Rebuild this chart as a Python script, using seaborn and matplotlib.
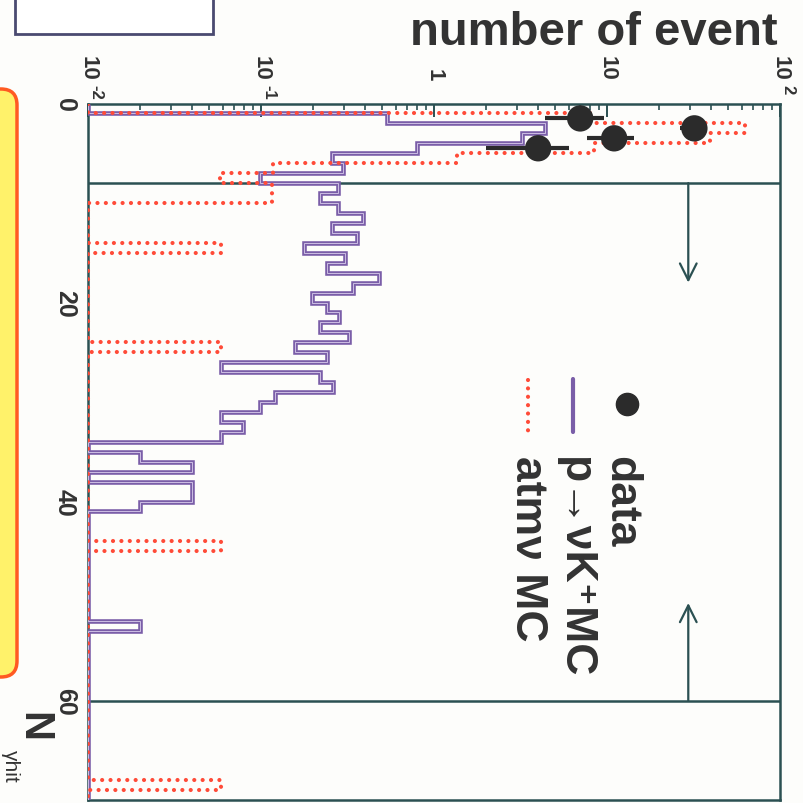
import numpy as np
import matplotlib
matplotlib.use("Agg")
import matplotlib.pyplot as plt
import seaborn as sns
from matplotlib.lines import Line2D
from matplotlib.patches import FancyBboxPatch, Rectangle
from matplotlib import transforms

# ---- data ---------------------------------------------------------------
# N_gamma-hit binning: unit bins from 0 to 70
nhit_edges = np.arange(0, 71)

# p -> nu K+ signal MC, events per bin (bins 0..69)
pk_mc = [0, 0.535, 4.38, 3.23, 0.80, 0.256, 0.299, 0.099, 0.28, 0.219,
         0.28, 0.39, 0.256, 0.357, 0.177, 0.306, 0.24, 0.483, 0.342, 0.196,
         0.24, 0.284, 0.219, 0.324, 0.157, 0.24, 0.059, 0.219, 0.26, 0.12,
         0.099, 0.059, 0.079, 0.059, 0, 0.02, 0.04, 0, 0.04, 0.04,
         0.02, 0, 0, 0, 0, 0, 0, 0, 0, 0,
         0, 0, 0.02, 0, 0, 0, 0, 0, 0, 0,
         0, 0, 0, 0, 0, 0, 0, 0, 0, 0]

# atmospheric neutrino MC, events per bin (bins 0..69)
atm_mc = [0, 8.0, 62.8, 39.4, 8.4, 1.36, 0.117, 0.058, 0.116, 0.116,
          0, 0, 0, 0, 0.059, 0, 0, 0, 0, 0,
          0, 0, 0, 0, 0.059, 0, 0, 0, 0, 0,
          0, 0, 0, 0, 0, 0, 0, 0, 0, 0,
          0, 0, 0, 0, 0.059, 0, 0, 0, 0, 0,
          0, 0, 0, 0, 0, 0, 0, 0, 0, 0,
          0, 0, 0, 0, 0, 0, 0, 0, 0.059, 0]

# observed data
data_nhit = [1.5, 2.5, 3.5, 4.5]
data_events = [7, 32, 11, 4]
data_err = [2.6, 5.7, 3.3, 2.0]

# selection window on N_gamma-hit
cut_low, cut_high = 8, 60

xticks_log = [1e-2, 1e-1, 1, 10, 1e2]
xtick_base = ["10", "10", "1", "10", "10"]
xtick_exp = ["-2", "-1", "", "", "2"]
ytick_vals = [0, 20, 40, 60]

# ---- style ---------------------------------------------------------------
sns.set_theme(style="white")
plt.rcParams["font.family"] = ["Liberation Sans", "DejaVu Sans"]

W = H = 804
FRAME = "#2b5052"
PURPLE = "#7a5ea8"
PURPLE_CORE = "#cdbfe3"
RED = "#ff4b38"
INK = "#2b2b2b"
TXT = "#333333"
DOTS = (0, (0.01, 2.0))


def fx(px):
    return px / W


def fy(py):
    return 1 - py / H


fig = plt.figure(figsize=(W / 100, H / 100), dpi=100)
fig.patch.set_facecolor("#fdfdfb")

ax = fig.add_axes([fx(88), fy(801), fx(780) - fx(88), fy(104.5) - fy(801)])
ax.set_facecolor("#fdfdfb")
ax.set_xscale("log")
ax.set_xlim(1e-2, 1e2)
ax.set_ylim(70, 0)

floor = 1e-2
# signal MC: thick purple outline with a pale core
ax.stairs(np.maximum(pk_mc, floor), nhit_edges, orientation="horizontal",
          baseline=floor, color=PURPLE, lw=3.3, zorder=3)
ax.stairs(np.maximum(pk_mc, floor), nhit_edges, orientation="horizontal",
          baseline=floor, color=PURPLE_CORE, lw=0.7, zorder=3.1)
# atmospheric MC: red dotted outline
atm_line = ax.stairs(np.maximum(atm_mc, floor), nhit_edges, orientation="horizontal",
                     baseline=floor, color=RED, lw=3.0, linestyle=DOTS, zorder=3.2)
atm_line.set_capstyle("round")

# data points with error bars
ax.errorbar(data_events, data_nhit, xerr=data_err, fmt="none",
            ecolor=INK, elinewidth=3.0, capsize=0, zorder=4)
sns.scatterplot(x=data_events, y=data_nhit, ax=ax, s=360, color=INK,
                edgecolor="none", zorder=5, legend=False)

# selection window
for c in (cut_low, cut_high):
    ax.axhline(c, color=FRAME, lw=1.8, zorder=2)
arrow_x = 29.5
ax.annotate("", xy=(arrow_x, 18), xytext=(arrow_x, cut_low),
            arrowprops=dict(arrowstyle="->", lw=1.6, color=FRAME,
                            mutation_scale=30, shrinkA=0, shrinkB=0))
ax.annotate("", xy=(arrow_x, 50.2), xytext=(arrow_x, cut_high),
            arrowprops=dict(arrowstyle="->", lw=1.6, color=FRAME,
                            mutation_scale=30, shrinkA=0, shrinkB=0))

# frame and ticks
for side in ("left", "top", "right", "bottom"):
    ax.spines[side].set_color(FRAME)
    ax.spines[side].set_linewidth(1.8)
ax.xaxis.set_ticks_position("top")
ax.set_xticks(xticks_log)
ax.set_xticklabels([])
ax.xaxis.set_minor_locator(matplotlib.ticker.LogLocator(base=10, subs=np.arange(2, 10)))
ax.xaxis.set_minor_formatter(matplotlib.ticker.NullFormatter())
ax.set_yticks(ytick_vals)
ax.set_yticks(np.arange(0, 71, 5), minor=True)
ax.set_yticklabels([str(v) for v in ytick_vals], rotation=-90, va="center",
                   fontsize=18, fontweight="bold", color=TXT)
ax.tick_params(axis="both", which="major", direction="in", length=9,
               width=1.4, color=FRAME)
ax.tick_params(axis="both", which="minor", direction="in", length=4.5,
               width=1.2, color=FRAME)
ax.tick_params(axis="y", which="major", pad=8)
ax.grid(False)

# decade labels above the frame
tb = transforms.blended_transform_factory(ax.transData, fig.transFigure)
for v, base, ex in zip(xticks_log, xtick_base, xtick_exp):
    ax.text(v, fy(81), base, transform=tb, rotation=-90, ha="center",
            va="bottom", fontsize=16, fontweight="bold", color=TXT, clip_on=False)
    if ex:
        ax.text(v, fy(85), ex, transform=tb, rotation=-90, ha="left",
                va="top", fontsize=12, fontweight="bold", color=TXT, clip_on=False)

# axis titles
fig.text(fx(778), fy(45), "number of event", ha="right", va="baseline",
         fontsize=34, fontweight="bold", color=TXT)
fig.text(fx(22), fy(712), "N", rotation=-90, rotation_mode="anchor",
         ha="left", va="baseline", fontsize=30, fontweight="bold", color=TXT)
fig.text(fx(5), fy(750), "γhit", rotation=-90, rotation_mode="anchor",
         ha="left", va="baseline", fontsize=15, color=TXT)

# legend (rotated with the figure)
fig.add_artist(Line2D([fx(627)], [fy(405)], marker="o", markersize=16,
                      color=INK, transform=fig.transFigure))
fig.add_artist(Line2D([fx(573), fx(573)], [fy(380), fy(433)], color=PURPLE,
                      lw=3.0, transform=fig.transFigure))
fig.add_artist(Line2D([fx(528), fx(528)], [fy(381), fy(433)], color=RED, lw=3.0,
                      linestyle=DOTS, dash_capstyle="round",
                      transform=fig.transFigure))
for x0, label in ((609, "data"), (563, "p→νK⁺MC"), (516, "atmν MC")):
    fig.text(fx(x0), fy(456), label, rotation=-90, rotation_mode="anchor",
             ha="left", va="baseline", fontsize=32, fontweight="bold", color=TXT)

# slide decorations around the figure
fig.add_artist(FancyBboxPatch((fx(-40), fy(678)), fx(57), fy(90) - fy(678),
                              boxstyle="round,pad=0,rounding_size=0.02",
                              facecolor="#fff26a", edgecolor="#ff5a22", lw=2.5,
                              transform=fig.transFigure))
fig.add_artist(Rectangle((fx(15), fy(35)), fx(198), fy(-20) - fy(35),
                         facecolor="white", edgecolor="#4a4a70", lw=2.0,
                         transform=fig.transFigure))

fig.savefig("out.png", dpi=100, facecolor=fig.get_facecolor())
